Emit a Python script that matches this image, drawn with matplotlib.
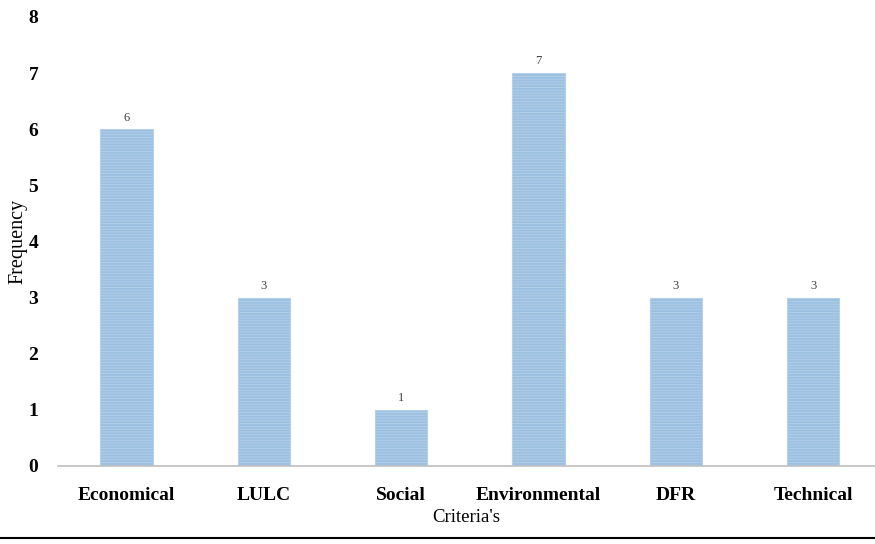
import matplotlib.pyplot as plt
from matplotlib.lines import Line2D

# data
criteria = ['Economical', 'LULC', 'Social', 'Environmental', 'DFR', 'Technical']
frequency = [6, 3, 1, 7, 3, 3]

plt.rcParams['font.family'] = ['Liberation Serif', 'DejaVu Serif']
plt.rcParams['hatch.linewidth'] = 0.6

fig = plt.figure(figsize=(8.75, 5.44), dpi=100)
ax = fig.add_axes([0.066, 0.1434, 0.934, 0.8256])

x = list(range(len(criteria)))
bars = ax.bar(x, frequency, width=0.38, color='#9BC0E0', edgecolor='#B5D0EA',
              linewidth=0.8, hatch='------', zorder=2)

for xi, v in zip(x, frequency):
    ax.text(xi, v + 0.1, str(v), ha='center', va='bottom', fontsize=9, color='#404040')

ax.set_xlim(-0.5, 5.45)
ax.set_ylim(0, 8)
ax.set_yticks(range(0, 9))
ax.set_xticks(x)
ax.set_xticklabels(criteria, fontsize=14, fontweight='bold')
ax.tick_params(axis='y', labelsize=14, length=0, pad=14)
ax.tick_params(axis='x', length=0, pad=15)
for lab in ax.get_yticklabels():
    lab.set_fontweight('bold')

for s in ['top', 'right', 'left']:
    ax.spines[s].set_visible(False)
ax.spines['bottom'].set_color('#BFBFBF')
ax.spines['bottom'].set_linewidth(1.2)

ax.set_xlabel("Criteria's", fontsize=13.5, labelpad=4)
ax.set_ylabel('Frequency', fontsize=14.5, labelpad=1)

# black rule along the bottom
fig.add_artist(Line2D([0, 1], [0.011, 0.011], color='black', lw=1.5))

fig.savefig('out.png', dpi=100)
